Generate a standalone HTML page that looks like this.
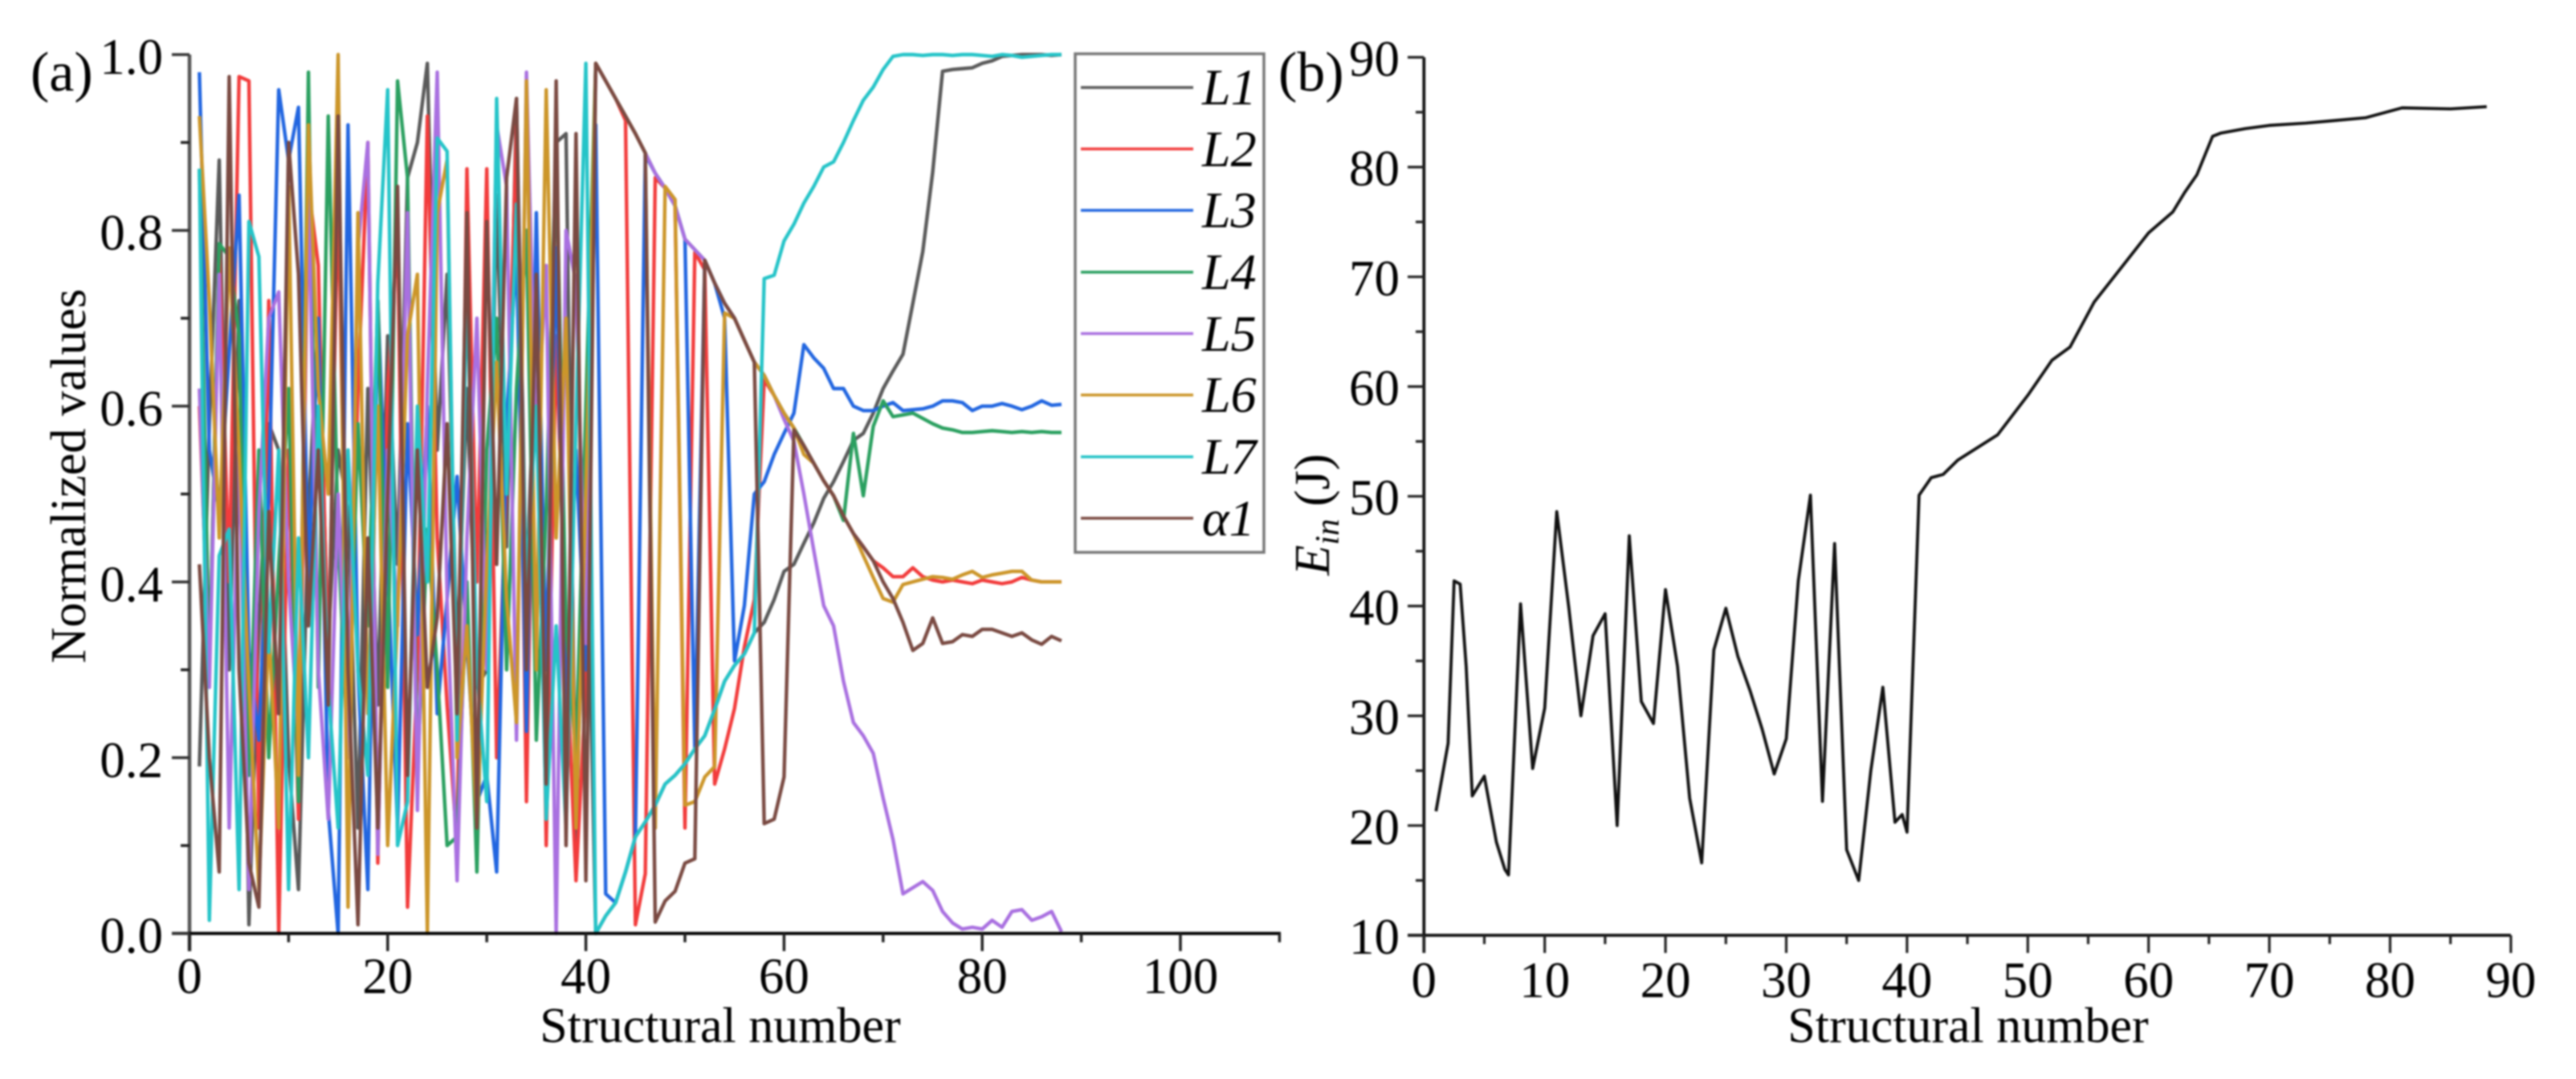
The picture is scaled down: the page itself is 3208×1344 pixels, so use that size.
<!DOCTYPE html>
<html lang="en">
<head>
<meta charset="utf-8">
<title>Normalized values and Ein versus structural number</title>
<style>
html,body{margin:0;padding:0;background:#fff;width:3208px;height:1344px;overflow:hidden}
svg{display:block;filter:blur(1px)}
text{font-family:"Liberation Serif",serif;fill:#000}
</style>
</head>
<body>
<svg id="figure" xmlns="http://www.w3.org/2000/svg" width="3208" height="1344" viewBox="0 0 3208 1344">
  <rect x="0" y="0" width="3208" height="1344" fill="#fff"></rect>
  <g id="panelA"></g>
  <g id="panelB"></g>

  <text x="38" y="113" font-size="70">(a)</text>
  <text x="1592" y="113" font-size="70">(b)</text>
  <text x="897" y="1298" font-size="62" text-anchor="middle">Structural number</text>
  <text x="2451" y="1298" font-size="62" text-anchor="middle">Structural number</text>
  <text transform="translate(106 593) rotate(-90)" font-size="62" text-anchor="middle">Normalized values</text>
  <text transform="translate(1655 641) rotate(-90)" font-size="62" text-anchor="middle"><tspan font-style="italic">E</tspan><tspan font-style="italic" font-size="42" dy="12">in</tspan><tspan dy="-12"> (J)</tspan></text>

  <g id="legend">
    <rect x="1339" y="67" width="235" height="621" fill="#fff" stroke="#777" stroke-width="3.5"></rect>
    <line x1="1346" x2="1486" y1="109" y2="109" stroke="#5a5a5a" stroke-width="3.5"></line>
    <text x="1497" y="130" font-size="64" font-style="italic">L1</text>
    <line x1="1346" x2="1486" y1="185.5" y2="185.5" stroke="#f23c3c" stroke-width="3.5"></line>
    <text x="1497" y="207" font-size="64" font-style="italic">L2</text>
    <line x1="1346" x2="1486" y1="262" y2="262" stroke="#2266e0" stroke-width="3.5"></line>
    <text x="1497" y="283" font-size="64" font-style="italic">L3</text>
    <line x1="1346" x2="1486" y1="339" y2="339" stroke="#2ba060" stroke-width="3.5"></line>
    <text x="1497" y="360" font-size="64" font-style="italic">L4</text>
    <line x1="1346" x2="1486" y1="415.5" y2="415.5" stroke="#a970e0" stroke-width="3.5"></line>
    <text x="1497" y="437" font-size="64" font-style="italic">L5</text>
    <line x1="1346" x2="1486" y1="492" y2="492" stroke="#cc962a" stroke-width="3.5"></line>
    <text x="1497" y="513" font-size="64" font-style="italic">L6</text>
    <line x1="1346" x2="1486" y1="569" y2="569" stroke="#25c4c8" stroke-width="3.5"></line>
    <text x="1497" y="590" font-size="64" font-style="italic">L7</text>
    <line x1="1346" x2="1486" y1="645.5" y2="645.5" stroke="#7a4a42" stroke-width="3.5"></line>
    <text x="1497" y="667" font-size="64" font-style="italic">α1</text>
  </g>
</svg>
<script>
// Panel (a) data: values at structural numbers 1 to 88
const seriesNames = ['L1','L2','L3','L4','L5','L6','L7','alpha1'];
const seriesColors = ['#5a5a5a','#f23c3c','#2266e0','#2ba060','#a970e0','#cc962a','#25c4c8','#7a4a42'];
const L1 = [.19,.58,.88,.30,.72,.01,.35,.58,.55,.20,.05,.48,.70,.33,.55,.48,.12,.62,.26,.68,.42,.86,.90,.99,.55,.75,.31,.62,.28,.30,.84,.44,.95,.38,.72,.18,.90,.91,.10,.55,
  0,.02,.035,.07,.11,.127,.146,.17,.18,.193,.21,.225,.255,.287,.305,.318,.342,.354,.38,.412,.42,.444,.467,.495,.514,.537,.561,.569,.592,.62,.64,.659,.717,.776,.866,.981,.983,.984,.985,.99,.993,.998,.999,1,1,1,.999,1];
const L2 = [.60,.30,.78,.40,.975,.97,.12,.72,0,.55,.13,.85,.76,.30,.85,.22,.62,.90,.08,.62,.80,.03,.30,.93,.45,.26,.10,.87,.40,.87,.20,.52,.92,.15,.80,.10,.68,.33,.06,.28,
  .99,.97,.95,.925,.01,.068,.86,.848,.828,.12,.775,.755,.17,.21,.256,.326,.38,.63,.612,.592,.575,.555,.535,.515,.498,.475,.455,.44,.424,.416,.406,.406,.416,.406,.402,.40,.402,.40,.398,.402,.40,.398,.40,.405,.402,.40,.40,.40];
const L3 = [.98,.55,.48,.66,.84,.32,.22,.50,.96,.88,.94,.40,.70,.14,0,.92,.30,.05,.72,.42,.12,.58,.34,.60,.25,.38,.52,.33,.15,.18,.07,.58,.78,.23,.82,.30,.78,.25,.55,.30,
  .92,.045,.035,.07,.11,.886,.865,.848,.828,.79,.21,.766,.74,.70,.31,.373,.50,.514,.545,.569,.592,.67,.655,.643,.62,.62,.60,.595,.595,.60,.604,.595,.596,.597,.60,.606,.606,.604,.595,.60,.60,.603,.60,.596,.60,.606,.601,.602];
const L4 = [.87,.30,.785,.77,.68,.18,.55,.20,.42,.62,.15,.98,.28,.93,.45,.20,.58,.35,.72,.28,.97,.86,.18,.46,.30,.10,.11,.40,.07,.55,.70,.30,.62,.80,.22,.48,.90,.35,.20,.60,
  .99,.97,.95,.93,.91,.888,.865,.848,.828,.79,.778,.766,.74,.717,.70,.675,.65,.635,.612,.592,.575,.555,.535,.515,.498,.47,.569,.498,.577,.606,.588,.59,.592,.586,.58,.575,.573,.57,.57,.571,.572,.571,.57,.571,.57,.571,.57,.57];
const L5 = [.62,.28,.75,.12,.55,.05,.48,.70,.73,.40,.22,.85,.30,.13,.50,.20,.78,.90,.09,.55,.35,.82,.14,.62,.98,.38,.06,.45,.70,.30,.92,.85,.22,.98,.55,.76,0,.80,.74,.33,
  .99,.97,.95,.93,.91,.888,.865,.848,.828,.79,.778,.766,.74,.717,.70,.675,.65,.635,.612,.585,.56,.50,.436,.373,.35,.287,.24,.225,.205,.154,.107,.045,.052,.059,.049,.025,.012,.005,.007,.005,.015,.007,.025,.027,.015,.019,.025,.002];
const L6 = [.93,.72,.45,.78,.55,.28,.05,.35,.12,.85,.18,.92,.62,.50,1,.03,.82,.25,.60,.10,.36,.68,.75,0,.82,.88,.20,.35,.12,.42,.65,.38,.24,.97,.30,.96,.45,.70,.12,.50,
  .99,.97,.95,.93,.91,.888,.12,.85,.835,.146,.15,.178,.19,.706,.70,.675,.65,.635,.612,.592,.575,.545,.535,.515,.498,.475,.455,.43,.405,.381,.377,.397,.40,.403,.406,.405,.403,.408,.412,.405,.408,.41,.412,.412,.402,.40,.40,.40];
const L7 = [.87,.015,.43,.46,.05,.81,.77,.32,.55,.05,.45,.20,.60,.28,.12,.55,.30,.18,.74,.96,.10,.15,.60,.40,.905,.89,.22,.74,.30,.15,.95,.50,.83,.40,.60,.13,.35,.12,.58,.99,
  0,.02,.035,.07,.11,.127,.146,.17,.18,.193,.21,.225,.255,.287,.305,.318,.342,.745,.749,.788,.807,.831,.85,.872,.878,.90,.925,.948,.963,.983,.998,1,1,.999,1,1,.999,1,1,.999,.998,1,.999,.997,.998,.999,1,1];
const alpha1 = [.42,.20,.07,.975,.30,.08,.03,.48,.25,.90,.75,.35,.55,.26,.93,.30,.01,.45,.12,.50,.85,.18,.55,.28,.36,.58,.25,.82,.12,.81,.42,.86,.95,.30,.75,.17,.97,.10,.91,.06,
  .99,.97,.95,.93,.91,.888,.013,.037,.048,.08,.085,.766,.74,.717,.70,.675,.65,.125,.13,.178,.573,.555,.535,.515,.498,.475,.455,.44,.424,.40,.381,.354,.322,.33,.359,.33,.332,.34,.338,.346,.346,.342,.338,.342,.334,.329,.338,.333];
const seriesValues = [L1,L2,L3,L4,L5,L6,L7,alpha1];

// Panel (a) ticks
const aXMajor = [0,20,40,60,80,100];
const aXMinor = [10,30,50,70,90,110];
const aYMajor = [0,0.2,0.4,0.6,0.8,1];
const aYMinor = [0.1,0.3,0.5,0.7,0.9];

// Panel (b) data
const bNumbers = [1,2,2.5,3,3.5,4,5,6,6.7,7,8,9,10,11,12,13,14,15,16,17,18,19,20,21,22,23,24,25,26,27,28,29,30,31,32,33,34,35,36,37,38,39,39.6,40,41,42,43,44.2,47.5,50,52,53.5,55.5,58,60,62,63,64,65.3,66,68,70,73,75,78,81,85,88];
const bEnergy = [21.3,27.5,42.3,42,34.5,22.7,24.5,18.5,16,15.5,40.2,25.2,30.7,48.6,39.8,30,37.3,39.3,20,46.4,31.3,29.3,41.5,34.5,22.5,16.6,36,39.8,35.4,32.3,28.8,24.7,27.9,42.3,50.1,22.2,45.7,17.8,15,25,32.6,20.3,21,19.4,50.1,51.7,52,53.3,55.6,59.2,62.4,63.6,67.7,71.2,74,75.9,77.7,79.3,82.8,83.1,83.5,83.8,84,84.2,84.5,85.4,85.3,85.5];
const bXMajor = [0,10,20,30,40,50,60,70,80,90];
const bXMinor = [5,15,25,35,45,55,65,75,85];
const bYMajor = [10,20,30,40,50,60,70,80,90];
const bYMinor = [15,25,35,45,55,65,75,85];

const NS = 'http://www.w3.org/2000/svg';
const panelA = document.getElementById('panelA');
const panelB = document.getElementById('panelB');

function xA(v){ return 236 + 12.34 * v; }
function yA(v){ return 1162.7 - 1094.7 * v; }
function xB(v){ return 1773.3 + 15.04 * v; }
function yB(v){ return 1165 - 13.67 * (v - 10); }

function drawLine(parent, x1, y1, x2, y2, color, width, name){
  const el = document.createElementNS(NS, 'line');
  el.setAttribute('x1', x1);
  el.setAttribute('y1', y1);
  el.setAttribute('x2', x2);
  el.setAttribute('y2', y2);
  el.setAttribute('stroke', color);
  el.setAttribute('stroke-width', width);
  
  
  parent.appendChild(el);
}

function drawLabel(parent, x, y, str, anchor, name){
  const el = document.createElementNS(NS, 'text');
  el.setAttribute('x', x);
  el.setAttribute('y', y);
  el.setAttribute('font-size', '63');
  el.setAttribute('text-anchor', anchor);
  el.textContent = str;
  
  
  parent.appendChild(el);
}

function drawSeries(parent, xs, ys, xf, yf, color, width, name){
  const el = document.createElementNS(NS, 'polyline');
  const pts = ys.map(function(v, i){ return xf(xs[i]).toFixed(1) + ',' + yf(v).toFixed(1); });
  el.setAttribute('points', pts.join(' '));
  el.setAttribute('fill', 'none');
  el.setAttribute('stroke', color);
  el.setAttribute('stroke-width', width);
  el.setAttribute('stroke-linejoin', 'round');
  
  
  parent.appendChild(el);
}

// Panel (a) series
const structuralNumbers = L1.map(function(_, i){ return i + 1; });
seriesValues.forEach(function(vals, i){
  drawSeries(panelA, structuralNumbers, vals, xA, yA, seriesColors[i], 4.4, 'series-' + seriesNames[i].toLowerCase());
});

// Panel (a) axes
drawLine(panelA, xA(0), yA(1), xA(0), yA(0) + 22, '#555', 4.5, 'panel-a-y-axis');
drawLine(panelA, 214, yA(0), 1595, yA(0), '#000', 3.8, 'panel-a-x-axis');
aXMajor.forEach(function(v){
  drawLine(panelA, xA(v), yA(0), xA(v), yA(0) + 22, '#222', 3.5, 'panel-a-x-tick');
  drawLabel(panelA, xA(v), 1237, String(v), 'middle', 'panel-a-x-tick-label');
});
aXMinor.forEach(function(v){
  drawLine(panelA, xA(v), yA(0), xA(v), yA(0) + 11, '#222', 3.5, 'panel-a-x-minor-tick');
});
aYMajor.forEach(function(v){
  drawLine(panelA, 214, yA(v), xA(0), yA(v), '#333', 3.5, 'panel-a-y-tick');
  drawLabel(panelA, 203, yA(v) + 24, v.toFixed(1), 'end', 'panel-a-y-tick-label');
});
aYMinor.forEach(function(v){
  drawLine(panelA, 225, yA(v), xA(0), yA(v), '#222', 3.5, 'panel-a-y-minor-tick');
});

// Panel (b) series
drawSeries(panelB, bNumbers, bEnergy, xB, yB, '#111', 3.8, 'series-ein');

// Panel (b) axes
drawLine(panelB, xB(0), yB(90), xB(0), yB(10) + 22, '#111', 3.8, 'panel-b-y-axis');
drawLine(panelB, 1753, yB(10), xB(90), yB(10), '#111', 3.8, 'panel-b-x-axis');
bXMajor.forEach(function(v){
  drawLine(panelB, xB(v), yB(10), xB(v), yB(10) + 22, '#222', 3.2, 'panel-b-x-tick');
  drawLabel(panelB, xB(v), 1242, String(v), 'middle', 'panel-b-x-tick-label');
});
bXMinor.forEach(function(v){
  drawLine(panelB, xB(v), yB(10), xB(v), yB(10) + 11, '#222', 3.2, 'panel-b-x-minor-tick');
});
bYMajor.forEach(function(v){
  drawLine(panelB, 1753, yB(v), xB(0), yB(v), '#222', 3.2, 'panel-b-y-tick');
  drawLabel(panelB, 1743, yB(v) + 23, String(v), 'end', 'panel-b-y-tick-label');
});
bYMinor.forEach(function(v){
  drawLine(panelB, 1763, yB(v), xB(0), yB(v), '#222', 3.2, 'panel-b-y-minor-tick');
});
</script>
</body>
</html>
